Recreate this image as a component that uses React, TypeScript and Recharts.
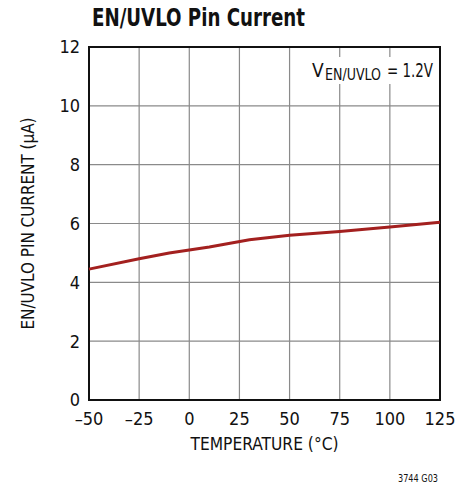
import { LineChart, Line, XAxis, YAxis, CartesianGrid, ReferenceArea } from "recharts";

const temps = [-50, -25, -10, 0, 10, 30, 50, 75, 100, 125];
const current = [4.45, 4.8, 5.0, 5.1, 5.2, 5.45, 5.6, 5.73, 5.88, 6.04];
const xTicks = [-50, -25, 0, 25, 50, 75, 100, 125];
const yTicks = [0, 2, 4, 6, 8, 10, 12];

const data = temps.map((t, i) => ({ t, i: current[i] }));

const FONT = "'Liberation Sans Narrow', 'DejaVu Sans Condensed', sans-serif";

const fmt = (v: number) => (v < 0 ? `\u2013${-v}` : `${v}`);

const YLabel = (props: any) => {
  const { viewBox } = props;
  const cx = viewBox.x + 28;
  const cy = viewBox.y + viewBox.height / 2;
  return (
    <text
      x={cx}
      y={cy}
      transform={`rotate(-90 ${cx} ${cy})`}
      textAnchor="middle"
      dominantBaseline="central"
      fontSize={17}
      fill="#111"
      fontFamily={FONT}
      textLength={212}
      lengthAdjust="spacingAndGlyphs"
    >
      EN/UVLO PIN CURRENT (µA)
    </text>
  );
};

const XLabel = (props: any) => {
  const { viewBox } = props;
  return (
    <text
      x={viewBox.x + viewBox.width / 2}
      y={viewBox.y + 50}
      textAnchor="middle"
      fontSize={17}
      fill="#111"
      fontFamily={FONT}
      textLength={148}
      lengthAdjust="spacingAndGlyphs"
    >
      TEMPERATURE (°C)
    </text>
  );
};

export default function App() {
  return (
    <div
      style={{
        position: "absolute",
        left: 0,
        top: 0,
        width: 466,
        height: 489,
        background: "#fff",
        fontFamily: FONT,
      }}
    >
      <LineChart
        width={466}
        height={489}
        data={data}
        margin={{ top: 47, right: 26, bottom: 29, left: 0 }}
      >
        <CartesianGrid stroke="#8a8a8a" strokeWidth={1.2} />
        <XAxis
          dataKey="t"
          type="number"
          domain={[-50, 125]}
          ticks={xTicks}
          height={60}
          tickSize={0}
          tickMargin={12}
          axisLine={false}
          tickFormatter={fmt}
          tick={{ fill: "#111", fontSize: 18, fontFamily: FONT }}
          label={{ content: <XLabel /> }}
        />
        <YAxis
          type="number"
          domain={[0, 12]}
          ticks={yTicks}
          width={89}
          tickSize={0}
          tickMargin={9}
          axisLine={false}
          tick={{ fill: "#111", fontSize: 18, fontFamily: FONT }}
          label={{ content: <YLabel /> }}
        />
        <ReferenceArea
          x1={-50}
          x2={125}
          y1={0}
          y2={12}
          fill="none"
          fillOpacity={0}
          stroke="#111"
          strokeWidth={2}
        />
        <Line
          type="linear"
          dataKey="i"
          stroke="#a3201f"
          strokeWidth={3}
          dot={false}
          isAnimationActive={false}
        />
      </LineChart>

      <svg
        width={466}
        height={489}
        style={{ position: "absolute", left: 0, top: 0, pointerEvents: "none" }}
      >
        <text
          x={92}
          y={26}
          fontSize={25}
          fontWeight="bold"
          fill="#111"
          fontFamily={FONT}
          textLength={213}
          lengthAdjust="spacingAndGlyphs"
        >
          EN/UVLO Pin Current
        </text>

        <rect x={309} y={57} width={128} height={27} fill="#fff" />
        <text x={312} y={77} fontSize={19} fill="#111" fontFamily={FONT}>
          V
        </text>
        <text
          x={325}
          y={80}
          fontSize={15}
          fill="#111"
          fontFamily={FONT}
          textLength={56}
          lengthAdjust="spacingAndGlyphs"
        >
          EN/UVLO
        </text>
        <text
          x={433}
          y={77}
          fontSize={19}
          fill="#111"
          fontFamily={FONT}
          textAnchor="end"
          textLength={46}
          lengthAdjust="spacingAndGlyphs"
        >
          = 1.2V
        </text>

        <text
          x={398}
          y={482}
          fontSize={11}
          fill="#111"
          fontFamily={FONT}
          textLength={40}
          lengthAdjust="spacingAndGlyphs"
        >
          3744 G03
        </text>
      </svg>
    </div>
  );
}
